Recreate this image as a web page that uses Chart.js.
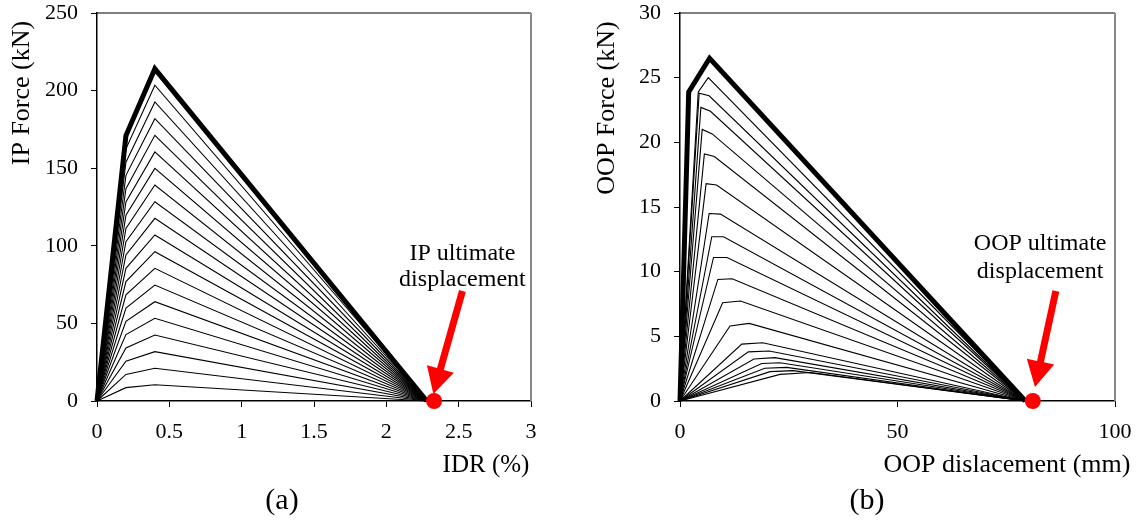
<!DOCTYPE html>
<html><head><meta charset="utf-8">
<script src="https://cdn.jsdelivr.net/npm/chart.js@4.4.1/dist/chart.umd.min.js"></script>
<style>
html,body{margin:0;padding:0;background:#fff;}
#wrap{position:relative;width:1141px;height:524px;overflow:hidden;}
.pan{position:absolute;top:0;height:524px;}
</style></head><body>
<div id="wrap">
<div class="pan" style="left:0;width:570px"><canvas id="cA" width="570" height="524"></canvas></div>
<div class="pan" style="left:570px;width:571px"><canvas id="cB" width="571" height="524"></canvas></div>
</div>
<script>
// ---------- Panel (a): IP force vs IDR ----------
const ipDriftPoints = [0, 0.2, 0.4, 2.28];            // IDR (%) of the 4 points of every curve
const ipForceBend = [8.6, 17.1, 25.7, 34.2, 42.8, 51.3, 59.9, 68.4, 77.0, 85.5, 94.1, 102.6, 111.2, 119.7, 128.3, 136.8, 145.4, 153.9, 162.5, 171];
const ipForcePeak = [10.5, 21.1, 31.8, 42.5, 53.3, 64.0, 74.7, 85.5, 96.2, 107.0, 117.7, 128.4, 139.2, 149.9, 160.5, 171.2, 181.9, 192.7, 203.5, 214];
const ipUltimate = [2.33, 0];
const ipXTicks = [0, 0.5, 1, 1.5, 2, 2.5, 3];
const ipXTickLabels = ['0', '0.5', '1', '1.5', '2', '2.5', '3'];
const ipYTicks = [0, 50, 100, 150, 200, 250];
const ipYTickLabels = ['0', '50', '100', '150', '200', '250'];

// ---------- Panel (b): OOP force vs OOP displacement ----------
const oopEndDisp = 79.4;
const oopBendDisp = [23.0, 20.7, 19.5, 18.8, 17.0, 15.7, 14.2, 11.5, 9.8, 8.7, 7.7, 7.3, 6.7, 6.0, 5.6, 5.1, 4.8, 4.4, 4.2, 2.0];
const oopBendForce = [2.06, 2.27, 2.53, 2.9, 3.25, 3.8, 4.4, 5.8, 7.6, 9.4, 11.1, 12.7, 14.5, 16.8, 19.1, 21.0, 22.7, 23.8, 23.9, 23.9];
const oopPeakDisp = [30.0, 26.0, 24.5, 23.0, 21.8, 20.5, 19.0, 15.9, 13.9, 12.0, 10.8, 10.0, 9.3, 8.4, 7.9, 7.4, 7.0, 6.7, 6.5, 6.8];
const oopPeakForce = [2.2, 2.35, 2.6, 2.96, 3.35, 3.87, 4.5, 6.0, 7.73, 9.45, 11.1, 12.7, 14.45, 16.7, 18.9, 20.65, 22.4, 23.6, 25.0, 26.5];
const oopUltimate = [81.1, 0];
const oopXTicks = [0, 50, 100];
const oopXTickLabels = ['0', '50', '100'];
const oopYTicks = [0, 5, 10, 15, 20, 25, 30];
const oopYTickLabels = ['0', '5', '10', '15', '20', '25', '30'];

// ---------- texts ----------
const textA = {yTitle: 'IP Force (kN)', xTitle: 'IDR (%)', panel: '(a)', note: ['IP ultimate', 'displacement']};
const textB = {yTitle: 'OOP Force (kN)', xTitle: 'OOP dislacement (mm)', panel: '(b)', note: ['OOP ultimate', 'displacement']};

const FONT = 'Liberation Serif';

function curveSets(bx, bf, px, pf, startX, endX) {
  const n = bf.length;
  const sets = [];
  for (let i = 0; i < n; i++) {
    const thick = i === n - 1;
    sets.push({
      data: [{x: startX, y: 0}, {x: bx[i], y: bf[i]}, {x: px[i], y: pf[i]}, {x: endX, y: 0}],
      borderColor: '#000', borderWidth: thick ? 5 : 1.1, pointRadius: 0,
      borderJoinStyle: 'miter', tension: 0, fill: false, order: thick ? 1 : 2, clip: false
    });
  }
  return sets;
}
function dotSet(pt) {
  return {data: [{x: pt[0], y: pt[1]}], showLine: false, pointRadius: 8, pointBackgroundColor: '#ff0000',
    pointBorderColor: '#ff0000', pointBorderWidth: 0, order: 0, clip: false};
}
function axis(min, max, ticks, labels, isX, size, pad) {
  return {
    type: 'linear', min, max,
    afterBuildTicks: s => { s.ticks = ticks.map(v => ({value: v})); },
    afterFit: s => {
      if (isX) s.height = size; else s.width = size;
      s.paddingTop = 0; s.paddingBottom = 0; s.paddingLeft = 0; s.paddingRight = 0;
    },
    grid: {display: true, drawOnChartArea: false, drawTicks: true, tickLength: 6, color: '#000', lineWidth: 1},
    border: {display: true, color: '#000', width: 1.5},
    ticks: {color: '#000', font: {family: FONT, size: 22}, padding: pad, maxRotation: 0, autoSkip: false,
      callback: (v, i) => labels[i]}
  };
}
function arrow(ctx, x1, y1, x2, y2) {
  const ang = Math.atan2(y2 - y1, x2 - x1), hl = 26, hw = 14, sw = 3.5;
  const bx = x2 - hl * Math.cos(ang), by = y2 - hl * Math.sin(ang);
  const nx = -Math.sin(ang), ny = Math.cos(ang);
  ctx.beginPath();
  ctx.moveTo(x1 + nx * sw, y1 + ny * sw);
  ctx.lineTo(bx + nx * sw, by + ny * sw);
  ctx.lineTo(bx + nx * hw, by + ny * hw);
  ctx.lineTo(x2, y2);
  ctx.lineTo(bx - nx * hw, by - ny * hw);
  ctx.lineTo(bx - nx * sw, by - ny * sw);
  ctx.lineTo(x1 - nx * sw, y1 - ny * sw);
  ctx.closePath(); ctx.fill();
}
const extras = {
  id: 'extras',
  afterDraw(chart, args, o) {
    const ctx = chart.ctx, a = chart.chartArea, xs = chart.scales.x, ys = chart.scales.y;
    ctx.save();
    // frame top & right
    ctx.strokeStyle = '#000'; ctx.lineWidth = 1.2;
    ctx.beginPath(); ctx.moveTo(a.left, a.top); ctx.lineTo(a.right, a.top); ctx.stroke();
    ctx.strokeStyle = '#888'; ctx.lineWidth = 2;
    ctx.beginPath(); ctx.moveTo(a.right, a.top); ctx.lineTo(a.right, a.bottom); ctx.stroke();
    // arrow
    ctx.fillStyle = '#ff0000';
    arrow(ctx, xs.getPixelForValue(o.arrow[0]), ys.getPixelForValue(o.arrow[1]),
      xs.getPixelForValue(o.arrow[2]), ys.getPixelForValue(o.arrow[3]));
    // texts
    ctx.fillStyle = '#000'; ctx.textAlign = 'center'; ctx.textBaseline = 'middle';
    ctx.font = '24px "' + FONT + '"';
    ctx.fillText(o.t.note[0], xs.getPixelForValue(o.note[0]), ys.getPixelForValue(o.note[1]));
    ctx.fillText(o.t.note[1], xs.getPixelForValue(o.note[0]), ys.getPixelForValue(o.note[2]));
    ctx.font = o.xtSize + 'px "' + FONT + '"';
    ctx.fillText(o.t.xTitle, a.right + o.xt[0], o.xt[1]);
    ctx.font = '30px "' + FONT + '"';
    ctx.fillText(o.t.panel, o.pl[0], o.pl[1]);
    ctx.font = '26px "' + FONT + '"';
    ctx.translate(a.left + o.yt[0], a.top + o.yt[1]);
    ctx.rotate(-Math.PI / 2);
    ctx.fillText(o.t.yTitle, 0, 0);
    ctx.restore();
  }
};
function make(id, datasets, xAx, yAx, padRight, extra) {
  return new Chart(document.getElementById(id), {
    type: 'line',
    data: {datasets},
    options: {
      responsive: false, animation: false, parsing: true,
      layout: {padding: {left: 0, top: 13, right: padRight, bottom: 0}},
      scales: {x: xAx, y: yAx},
      plugins: {legend: {display: false}, tooltip: {enabled: false}, title: {display: false}, extras: extra}
    },
    plugins: [extras]
  });
}

make('cA',
  [dotSet(ipUltimate)].concat(curveSets(ipForceBend.map(() => ipDriftPoints[1]), ipForceBend,
    ipForcePeak.map(() => ipDriftPoints[2]), ipForcePeak, ipDriftPoints[0], ipDriftPoints[3])),
  axis(0, 3, ipXTicks, ipXTickLabels, true, 123, 12),
  axis(0, 250, ipYTicks, ipYTickLabels, false, 97, 13),
  39,
  {t: textA, arrow: [2.526, 70.9, 2.325, 4.5], note: [2.526, 94.7, 78.0], xt: [-45, 465], xtSize: 25, pl: [282, 501], yt: [-75, 80]});

make('cB',
  [dotSet(oopUltimate)].concat(curveSets(oopBendDisp, oopBendForce, oopPeakDisp, oopPeakForce, 0, oopEndDisp)),
  axis(0, 100, oopXTicks, oopXTickLabels, true, 123, 12),
  axis(0, 30, oopYTicks, oopYTickLabels, false, 110, 13),
  26,
  {t: textB, arrow: [86.4, 8.5, 81.6, 1.08], note: [82.8, 12.14, 9.98], xt: [-108, 465], xtSize: 26, pl: [297, 501], yt: [-73, 95]});
</script>
</body></html>
